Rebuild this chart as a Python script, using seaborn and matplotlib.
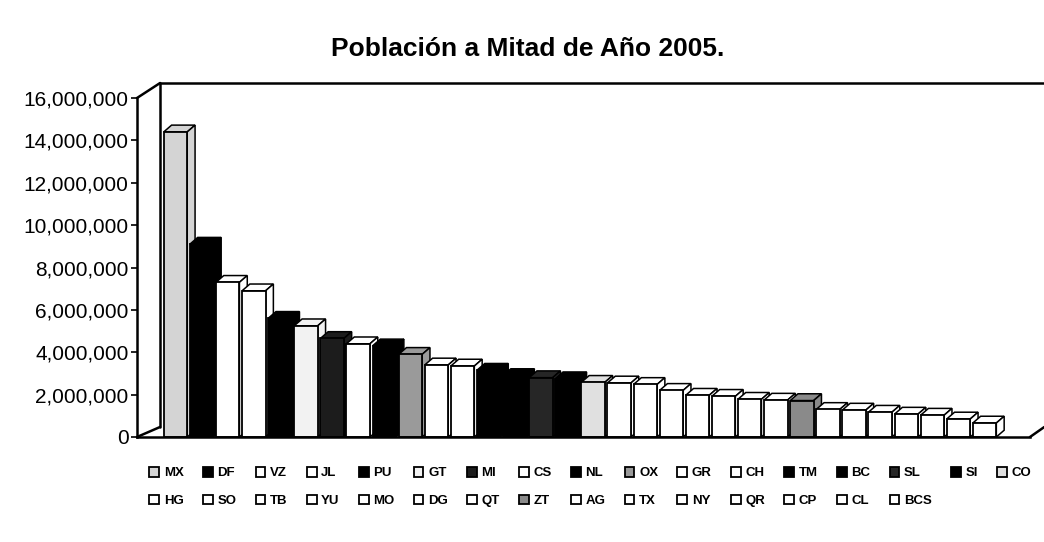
import matplotlib
matplotlib.use("Agg")
import matplotlib.pyplot as plt
import seaborn as sns
import pandas as pd
from matplotlib.patches import Polygon
from matplotlib.ticker import FuncFormatter

# Datos (poblacion a mitad de 2005)
estados = ['MX', 'DF', 'VZ', 'JL', 'PU', 'GT', 'MI', 'CS', 'NL', 'OX', 'GR',
           'CH', 'TM', 'BC', 'SL', 'SI', 'CO', 'HG', 'SO', 'TB', 'YU', 'MO',
           'DG', 'QT', 'ZT', 'AG', 'TX', 'NY', 'QR', 'CP', 'CL', 'BCS']
poblacion = [14400000, 9100000, 7300000, 6900000, 5600000, 5250000, 4650000,
             4400000, 4300000, 3900000, 3400000, 3350000, 3150000, 2900000,
             2800000, 2750000, 2580000, 2550000, 2480000, 2200000, 1970000,
             1920000, 1780000, 1740000, 1720000, 1300000, 1270000, 1170000,
             1080000, 1030000, 850000, 660000]
colores = ['#d4d4d4', '#000000', '#ffffff', '#ffffff', '#000000', '#f2f2f2',
           '#1c1c1c', '#ffffff', '#000000', '#9a9a9a', '#ffffff', '#ffffff',
           '#000000', '#000000', '#262626', '#000000', '#e0e0e0', '#ffffff',
           '#ffffff', '#ffffff', '#ffffff', '#ffffff', '#ffffff', '#ffffff',
           '#8a8a8a', '#ffffff', '#ffffff', '#ffffff', '#ffffff', '#ffffff',
           '#ffffff', '#ffffff']

df = pd.DataFrame({'estado': estados, 'poblacion': poblacion})

sns.set_style('white')
plt.rcParams['font.family'] = ['Liberation Sans', 'DejaVu Sans']
plt.rcParams['text.color'] = 'black'
plt.rcParams['ytick.color'] = 'black'
plt.rcParams['ytick.labelcolor'] = 'black'

fig = plt.figure(figsize=(10.44, 5.42), dpi=100)
ax = fig.add_axes([137 / 1044, 1 - 437 / 542, 893 / 1044, 339 / 542])

sns.barplot(data=df, x='estado', y='poblacion', hue='estado',
            palette=colores, legend=False, width=0.9,
            edgecolor='black', linewidth=1.3, ax=ax)
barras = list(ax.patches)

# efecto 3D: cara superior y lateral de cada barra
dx, dy = 0.3, 320000
for i, b in enumerate(barras):
    x0 = b.get_x()
    x1 = x0 + b.get_width()
    h = b.get_height()
    c = b.get_facecolor()
    z = 2 + i * 0.01
    b.set_zorder(z + 0.005)
    top = Polygon([(x0, h), (x0 + dx, h + dy), (x1 + dx, h + dy), (x1, h)],
                  closed=True, facecolor=c, edgecolor='black',
                  linewidth=1.1, zorder=z)
    side = Polygon([(x1, 0), (x1 + dx, dy), (x1 + dx, h + dy), (x1, h)],
                   closed=True, facecolor=c, edgecolor='black',
                   linewidth=1.1, zorder=z)
    ax.add_patch(top)
    ax.add_patch(side)

ax.set_ylim(0, 16000000)
ax.set_xlim(-1.475, 32.74)
ax.set_yticks(range(0, 16000001, 2000000))
ax.yaxis.set_major_formatter(FuncFormatter(lambda v, p: f'{int(v):,}'))
ax.tick_params(axis='y', labelsize=15, length=4, width=1.2,
               direction='out', left=True, pad=2, colors='black')
ax.set_xticks([])
ax.set_xlabel('')
ax.set_ylabel('')
for s in ['left', 'bottom']:
    ax.spines[s].set_color('black')
    ax.spines[s].set_linewidth(1.8)
ax.spines['top'].set_visible(False)
ax.spines['right'].set_visible(False)

# pared del fondo (aspecto 3D)
bx, by, fy = 0.0258, 1.0442, 0.0295
pared = dict(color='black', linewidth=1.8, transform=ax.transAxes,
             clip_on=False, zorder=1)
ax.plot([bx, 1.016], [by, by], **pared)
ax.plot([bx, bx], [fy, by], **pared)
ax.plot([0, bx], [1, by], **pared)
ax.plot([0, bx], [0, fy], **pared)
ax.plot([1.0, 1.016], [0, fy], **pared)

fig.text(0.505, 0.91, 'Población a Mitad de Año 2005.', ha='center',
         va='center', fontsize=19, fontweight='bold', color='black')

# leyenda en dos filas, ordenada por filas
fila1 = list(range(17))
fila2 = list(range(17, 32))
orden = []
for k in range(15):
    orden += [fila1[k], fila2[k]]
orden += [fila1[15], fila1[16]]

leg = fig.legend(handles=[barras[k] for k in orden],
                 labels=[estados[k] for k in orden], ncol=17,
                 loc='upper left', bbox_to_anchor=(0.138, 0.148),
                 prop={'size': 9.5, 'weight': 'bold'},
                 handlelength=0.75, handleheight=0.75,
                 handletextpad=0.35, columnspacing=1.45, frameon=False,
                 labelspacing=1.15, borderaxespad=0)
for t in leg.get_texts():
    t.set_color('black')

fig.savefig('out.png', dpi=100)
